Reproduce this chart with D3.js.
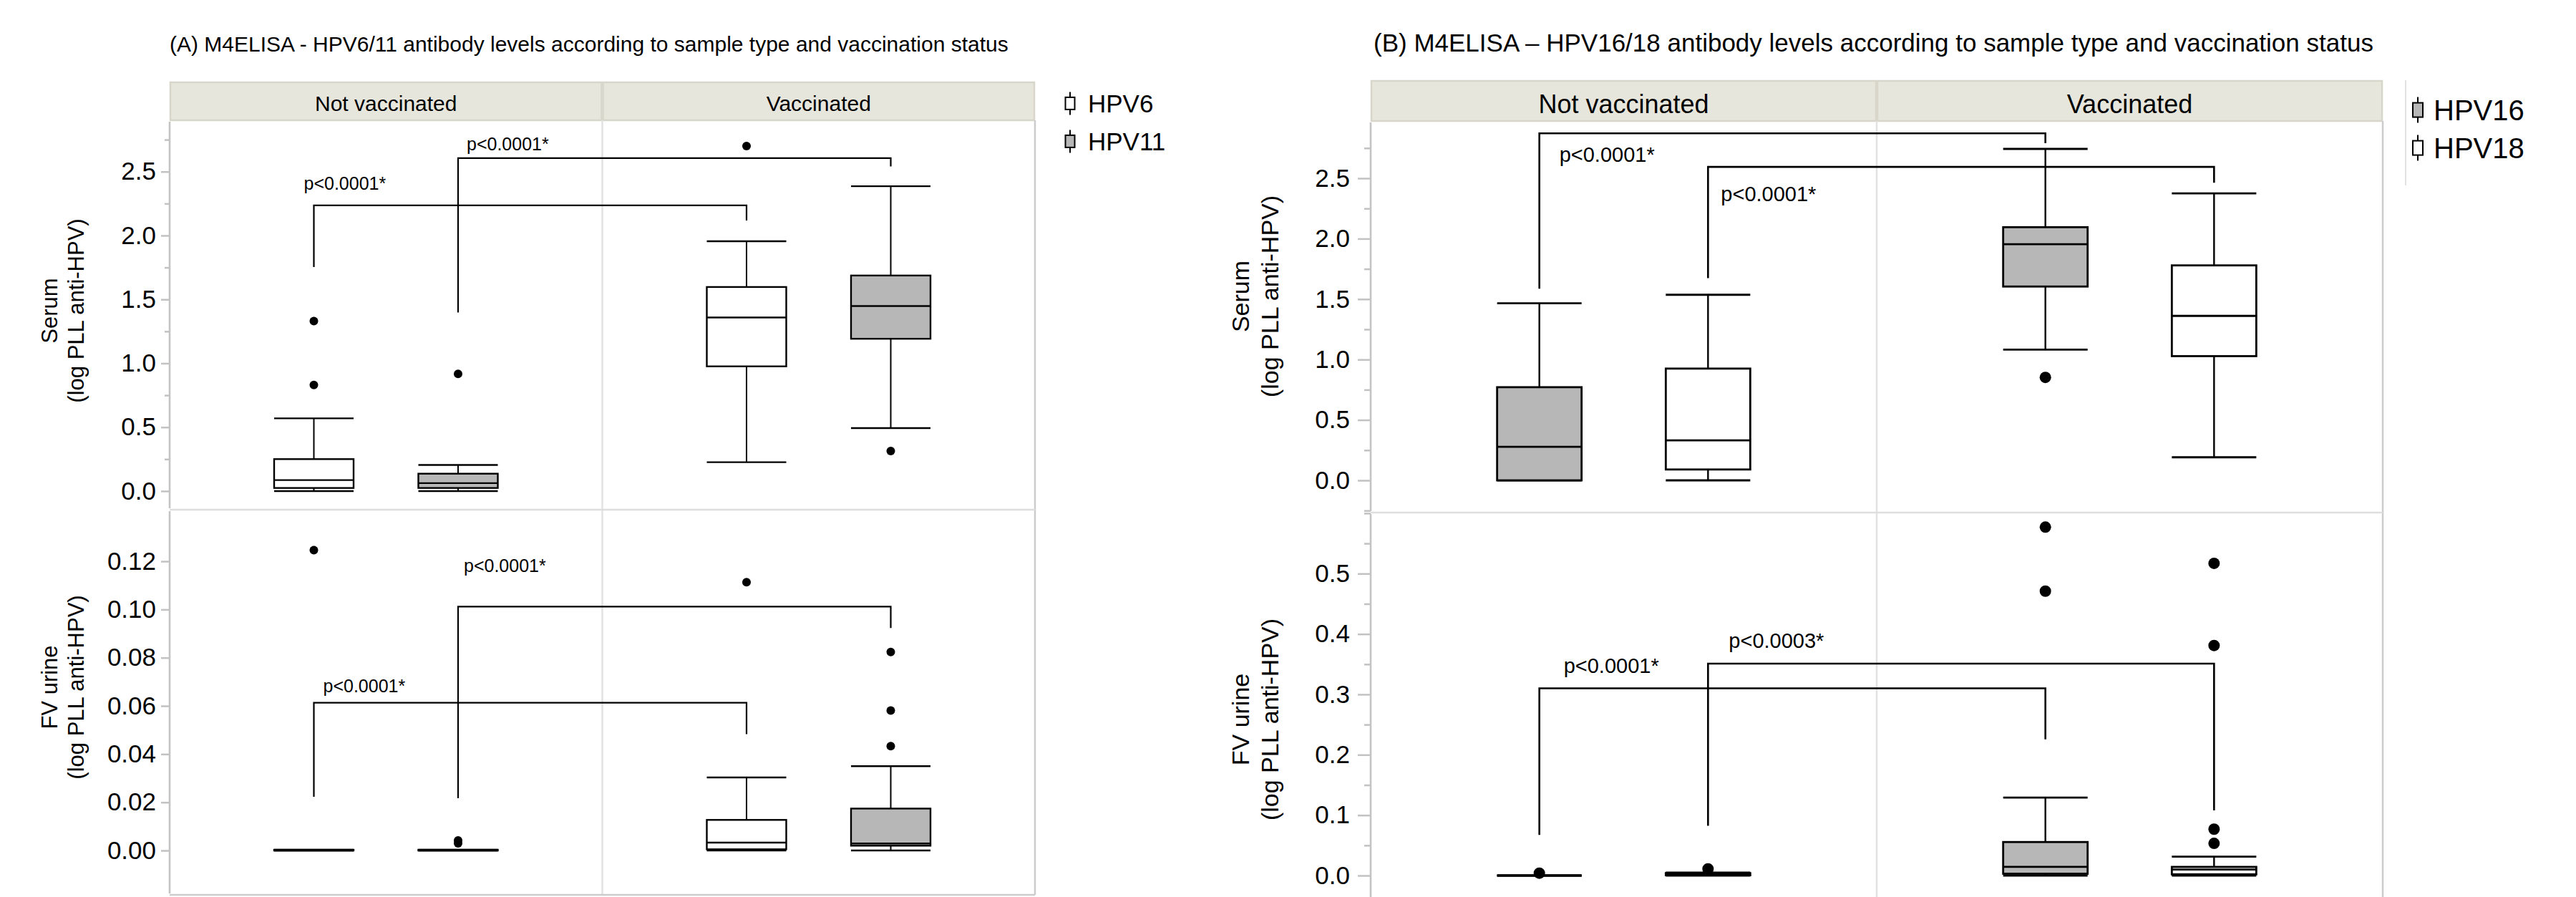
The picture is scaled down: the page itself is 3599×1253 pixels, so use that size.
<!DOCTYPE html>
<html>
<head>
<meta charset="utf-8">
<script src="https://cdn.jsdelivr.net/npm/d3@7"></script>
<style>
  body { margin: 0; background: #fff; }
  svg text { font-family: "Liberation Sans", Arial, Helvetica, sans-serif; fill: #000; }
</style>
</head>
<body>
<svg id="chart" width="3599" height="1253"></svg>
<script>
// ---------------- DATA ----------------
const groups = ["Not vaccinated", "Vaccinated"];
const seriesA = ["HPV6", "HPV11"];
const seriesB = ["HPV16", "HPV18"];
const titleA = "(A) M4ELISA - HPV6/11 antibody levels according to sample type and vaccination status";
const titleB = "(B) M4ELISA \u2013 HPV16/18 antibody levels according to sample type and vaccination status";
const serumTitle = ["Serum", "(log PLL anti-HPV)"];
const urineTitle = ["FV urine", "(log PLL anti-HPV)"];

// box statistics: [lower whisker, Q1, median, Q3, upper whisker] for [Not vaccinated, Vaccinated]
const serumHPV6  = [[0, 0.024, 0.086, 0.25, 0.569], [0.226, 0.976, 1.358, 1.597, 1.955]];
const serumHPV6Out  = [[1.33, 0.83], [2.70]];
const serumHPV11 = [[0, 0.024, 0.062, 0.136, 0.204], [0.493, 1.192, 1.448, 1.687, 2.386]];
const serumHPV11Out = [[0.917], [0.313]];
const urineHPV6  = [[0, 0, 0, 0.0003, 0.0003], [0, 0.0005, 0.0033, 0.0127, 0.0303]];
const urineHPV6Out  = [[0.1246], [0.1113]];
const urineHPV11 = [[0, 0, 0, 0.0003, 0.0003], [0, 0.002, 0.0029, 0.0174, 0.035]];
const urineHPV11Out = [[0.0042, 0.003], [0.0824, 0.0581, 0.0433]];

const serumHPV16 = [[0, 0, 0.278, 0.771, 1.466], [1.082, 1.604, 1.954, 2.095, 2.743]];
const serumHPV16Out = [[], [0.852]];
const serumHPV18 = [[0, 0.09, 0.331, 0.925, 1.536], [0.191, 1.028, 1.361, 1.779, 2.375]];
const serumHPV18Out = [[], []];
const urineHPV16 = [[0, 0, 0, 0, 0], [0, 0.003, 0.0143, 0.0555, 0.129]];
const urineHPV16Out = [[0.004], [0.577, 0.471]];
const urineHPV18 = [[0, 0.0005, 0.002, 0.004, 0.005], [0, 0.002, 0.01, 0.0143, 0.0312]];
const urineHPV18Out = [[0.011], [0.517, 0.381, 0.0768, 0.0533]];

// tick values
const ticksSerum = [0, 0.5, 1.0, 1.5, 2.0, 2.5];
const minorSerumA = [0.25, 0.75, 1.25, 1.75, 2.25, 2.75];
const minorSerumB = [-0.25, 0.25, 0.75, 1.25, 1.75, 2.25, 2.75];
const ticksUrineA = [0, 0.02, 0.04, 0.06, 0.08, 0.10, 0.12];
const ticksUrineB = [0, 0.1, 0.2, 0.3, 0.4, 0.5];
const minorUrineB = [0.05, 0.15, 0.25, 0.35, 0.45, 0.55, 0.6];

// significance annotations: p-value text and levels [bracket top, left leg end, right leg end, label baseline]
const pSerumA = ["p<0.0001*", "p<0.0001*"];
const levelsSerumA = [[2.236, 1.753, 2.117, 2.356], [2.606, 1.398, 2.54, 2.666]];
const pUrineA = ["p<0.0001*", "p<0.0001*"];
const levelsUrineA = [[0.0613, 0.0223, 0.0483, 0.0657], [0.1012, 0.0217, 0.0923, 0.1157]];
const pSerumB = ["p<0.0001*", "p<0.0001*"];
const levelsSerumB = [[2.872, 1.586, 2.791, 2.638], [2.594, 1.674, 2.463, 2.309]];
const pUrineB = ["p<0.0001*", "p<0.0003*"];
const levelsUrineB = [[0.31, 0.0672, 0.2255, 0.335], [0.351, 0.0824, 0.108, 0.377]];

// ---------------- LAYOUT / STYLE ----------------
const GREY = "#b7b7b7", WHITE = "#ffffff";
const svg = d3.select("#chart");

const panelA = {
  title: titleA, titleX: 237, titleY: 72, titleFont: 30,
  left: 237, right: 1446, headTop: 115, headBot: 168, headFont: 30, headBase: 155,
  series: seriesA, fills: [WHITE, GREY],
  tickFont: 35, tickLen: 12, minorLen: 7, tickPad: 7,
  boxW: 111, boxStroke: 2.4, whiskStroke: 2, dotR: 6, bracketStroke: 2.2, pFont: 25,
  axisTitleFont: 31, axisTitleX: [80, 117],
  legendSymX: 1495, legendTextX: 1520, legendBase: [157, 210], legendFont: 35, legendRect: [13, 17], legendLine: 32,
  legendLine2: null,
  rows: [
    { top: 168, bottom: 712, domain: [-0.146, 2.902], ticks: ticksSerum, minor: minorSerumA, fmt: ".1f",
      stats: [serumHPV6, serumHPV11], outs: [serumHPV6Out, serumHPV11Out],
      pvals: pSerumA, levels: levelsSerumA, labelDx: [-14, 12], axisTitle: serumTitle, titleCY: 434 },
    { top: 712, bottom: 1250, domain: [-0.0184, 0.1414], ticks: ticksUrineA, minor: [], fmt: ".2f",
      stats: [urineHPV6, urineHPV11], outs: [urineHPV6Out, urineHPV11Out],
      pvals: pUrineA, levels: levelsUrineA, labelDx: [13, 8], axisTitle: urineTitle, titleCY: 960 }
  ]
};

const panelB = {
  title: titleB, titleX: 1919, titleY: 72, titleFont: 35,
  left: 1915, right: 3329, headTop: 113, headBot: 169, headFont: 36, headBase: 158,
  series: seriesB, fills: [GREY, WHITE],
  tickFont: 35, tickLen: 18, minorLen: 9, tickPad: 11,
  boxW: 118, boxStroke: 2.8, whiskStroke: 2.4, dotR: 8, bracketStroke: 2.6, pFont: 29,
  axisTitleFont: 34, axisTitleX: [1745, 1786],
  legendSymX: 3378, legendTextX: 3400, legendBase: [168, 221], legendFont: 40, legendRect: [14, 20], legendLine: 36,
  legendLine2: { x: 3361, y1: 112, y2: 259 },
  rows: [
    { top: 169, bottom: 716, domain: [-0.2666, 2.974], ticks: ticksSerum, minor: minorSerumB, fmt: ".1f",
      stats: [serumHPV16, serumHPV18], outs: [serumHPV16Out, serumHPV18Out],
      pvals: pSerumB, levels: levelsSerumB, labelDx: [28, 18], axisTitle: serumTitle, titleCY: 414 },
    { top: 716, bottom: 1256, domain: [-0.0391, 0.6011], ticks: ticksUrineB, minor: minorUrineB, fmt: ".1f",
      stats: [urineHPV16, urineHPV18], outs: [urineHPV16Out, urineHPV18Out],
      pvals: pUrineB, levels: levelsUrineB, labelDx: [34, 29], axisTitle: urineTitle, titleCY: 1005 }
  ]
};

function drawPanel(p) {
  const g = svg.append("g");
  const xGroup = d3.scaleBand().domain(groups).range([p.left, p.right]);
  const xSeries = d3.scalePoint().domain(p.series).range([0, xGroup.bandwidth()]).padding(1);
  const cx = (gi, si) => xGroup(groups[gi]) + xSeries(p.series[si]);

  // title
  g.append("text").attr("x", p.titleX).attr("y", p.titleY)
    .style("font-size", p.titleFont + "px").text(p.title);

  // header strip
  groups.forEach(gr => {
    g.append("rect").attr("x", xGroup(gr) + 1).attr("y", p.headTop)
      .attr("width", xGroup.bandwidth() - 2).attr("height", p.headBot - p.headTop)
      .attr("fill", "#e7e6dd").attr("stroke", "#d8d6cb").attr("stroke-width", 2.5);
    g.append("text").attr("x", xGroup(gr) + xGroup.bandwidth() / 2).attr("y", p.headBase)
      .attr("text-anchor", "middle").style("font-size", p.headFont + "px").text(gr);
  });

  const last = p.rows[p.rows.length - 1];
  // frame: divider, right border
  g.append("line").attr("x1", xGroup(groups[1])).attr("x2", xGroup(groups[1]))
    .attr("y1", p.headBot).attr("y2", last.bottom).attr("stroke", "#e2e2e2").attr("stroke-width", 2.5);
  g.append("line").attr("x1", p.right).attr("x2", p.right)
    .attr("y1", p.headBot).attr("y2", last.bottom).attr("stroke", "#cccccc").attr("stroke-width", 2.5);

  p.rows.forEach((row, ri) => {
    const y = d3.scaleLinear().domain(row.domain).range([row.bottom, row.top]);
    // bottom / separator
    g.append("line").attr("x1", p.left).attr("x2", p.right).attr("y1", row.bottom).attr("y2", row.bottom)
      .attr("stroke", ri === p.rows.length - 1 ? "#cccccc" : "#dedede").attr("stroke-width", 2.5);

    // axis
    const ax = g.append("g").attr("transform", `translate(${p.left},0)`)
      .call(d3.axisLeft(y).tickValues(row.ticks).tickSize(p.tickLen).tickPadding(p.tickPad)
        .tickFormat(d3.format(row.fmt)));
    ax.select(".domain").remove();
    ax.selectAll(".tick line").attr("stroke", "#c2c2c2").attr("stroke-width", 2.5);
    ax.selectAll(".tick text").attr("fill", "#000").style("font-size", p.tickFont + "px")
      .style("font-family", '"Liberation Sans", Arial, sans-serif');
    if (row.minor.length) {
      const mx = g.append("g").attr("transform", `translate(${p.left},0)`)
        .call(d3.axisLeft(y).tickValues(row.minor).tickSize(p.minorLen).tickFormat(""));
      mx.select(".domain").remove();
      mx.selectAll(".tick line").attr("stroke", "#c2c2c2").attr("stroke-width", 2.5);
    }
    g.append("line").attr("x1", p.left).attr("x2", p.left).attr("y1", row.top + 2).attr("y2", row.bottom - 2)
      .attr("stroke", "#c4c4c4").attr("stroke-width", 2.6);

    // axis title
    const tt = g.append("g");
    row.axisTitle.forEach((t, li) => {
      tt.append("text")
        .attr("transform", `translate(${p.axisTitleX[li]},${row.titleCY}) rotate(-90)`)
        .attr("text-anchor", "middle").style("font-size", p.axisTitleFont + "px").text(t);
    });

    // boxes
    row.stats.forEach((st, si) => {
      st.forEach((s, gi) => {
        const c = cx(gi, si), hw = p.boxW / 2;
        const [lo, q1, med, q3, hi] = s;
        const bg = g.append("g");
        bg.append("line").attr("x1", c).attr("x2", c).attr("y1", y(hi)).attr("y2", y(q3))
          .attr("stroke", "#000").attr("stroke-width", p.whiskStroke);
        bg.append("line").attr("x1", c).attr("x2", c).attr("y1", y(q1)).attr("y2", y(lo))
          .attr("stroke", "#000").attr("stroke-width", p.whiskStroke);
        [hi, lo].forEach(v => bg.append("line").attr("x1", c - hw).attr("x2", c + hw)
          .attr("y1", y(v)).attr("y2", y(v)).attr("stroke", "#000").attr("stroke-width", p.boxStroke));
        bg.append("rect").attr("x", c - hw).attr("y", y(q3)).attr("width", p.boxW)
          .attr("height", Math.max(0, y(q1) - y(q3))).attr("fill", p.fills[si])
          .attr("stroke", "#000").attr("stroke-width", p.boxStroke);
        bg.append("line").attr("x1", c - hw).attr("x2", c + hw).attr("y1", y(med)).attr("y2", y(med))
          .attr("stroke", "#000").attr("stroke-width", p.boxStroke);
        bg.selectAll("circle.o").data(row.outs[si][gi]).enter().append("circle")
          .attr("cx", c).attr("cy", d => y(d)).attr("r", p.dotR).attr("fill", "#000");
      });
    });

    // brackets
    row.levels.forEach((lv, si) => {
      const [top, lEnd, rEnd, lab] = lv;
      const x0 = cx(0, si), x1 = cx(1, si);
      g.append("path").attr("d", `M${x0},${y(lEnd)}V${y(top)}H${x1}V${y(rEnd)}`)
        .attr("fill", "none").attr("stroke", "#000").attr("stroke-width", p.bracketStroke);
      g.append("text").attr("x", x0 + row.labelDx[si]).attr("y", y(lab))
        .style("font-size", p.pFont + "px").text(row.pvals[si]);
    });
  });

  // legend
  p.series.forEach((s, si) => {
    const base = p.legendBase[si];
    const cy = base - p.legendFont * 0.36;
    g.append("line").attr("x1", p.legendSymX).attr("x2", p.legendSymX)
      .attr("y1", cy - p.legendLine / 2).attr("y2", cy + p.legendLine / 2)
      .attr("stroke", "#000").attr("stroke-width", 2);
    g.append("rect").attr("x", p.legendSymX - p.legendRect[0] / 2).attr("y", cy - p.legendRect[1] / 2)
      .attr("width", p.legendRect[0]).attr("height", p.legendRect[1])
      .attr("fill", p.fills[si]).attr("stroke", "#000").attr("stroke-width", 2);
    g.append("text").attr("x", p.legendTextX).attr("y", base)
      .style("font-size", p.legendFont + "px").text(s);
  });
  if (p.legendLine2) {
    g.append("line").attr("x1", p.legendLine2.x).attr("x2", p.legendLine2.x)
      .attr("y1", p.legendLine2.y1).attr("y2", p.legendLine2.y2)
      .attr("stroke", "#e2e2e2").attr("stroke-width", 2);
  }
}

drawPanel(panelA);
drawPanel(panelB);
</script>
</body>
</html>
